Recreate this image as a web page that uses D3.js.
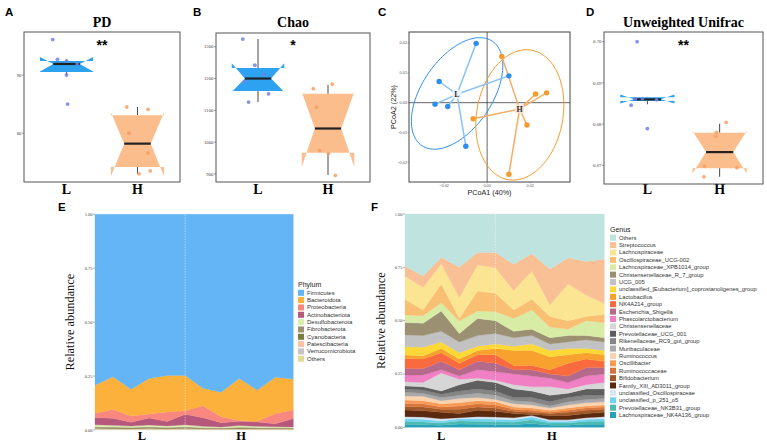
<!DOCTYPE html>
<html>
<head>
<meta charset="utf-8">
<script src="https://cdn.jsdelivr.net/npm/d3@7"></script>
<style>
body { margin: 0; background: #fff; }
svg { display: block; }
</style>
</head>
<body>
<svg id="fig" width="767" height="442"></svg>
<script>
// ---------- data ----------
var groups = ["L", "H"];

// alpha / beta diversity boxes: [whiskerLow, q1, median, q3, whiskerHigh, notchLow, notchHigh]
var pdBoxL = [90.0, 90.5, 91.9, 92.4, 92.7, 90.6, 93.1];
var pdBoxH = [73.0, 74.2, 78.2, 83.1, 84.5, 72.6, 83.6];
var pdL = [96.1, 92.7, 92.4, 91.9, 90.0, 85.0];
var pdH = [84.5, 84.1, 80.0, 76.6, 73.0, 73.5];
var pdJitterL = [-0.26, -0.17, 0.0, 0.2, 0.0, 0.02];
var pdJitterH = [-0.2, 0.2, -0.16, 0.2, 0.03, 0.24];
var pdTicks = [80, 90];

var chaoBoxL = [1126, 1161, 1200, 1233, 1324, 1158, 1248];
var chaoBoxH = [897, 967, 1043, 1152, 1180, 923, 1158];
var chaoL = [1324, 1242, 1214, 1190, 1152, 1126];
var chaoH = [1168, 1182, 1110, 974, 964, 896];
var chaoJitterL = [-0.29, -0.06, 0.11, -0.25, 0.2, -0.18];
var chaoJitterH = [-0.28, 0.08, -0.22, -0.16, 0.01, 0.14];
var chaoTicks = [900, 1000, 1100, 1200, 1300];

var uniBoxL = [0.6848, 0.6856, 0.6860, 0.6865, 0.6866, 0.6850, 0.6872];
var uniBoxH = [0.6672, 0.6693, 0.6732, 0.6779, 0.6801, 0.6680, 0.6783];
var uniL = [0.7000, 0.6846, 0.6789, 0.6861, 0.6859, 0.6862];
var uniH = [0.6804, 0.6780, 0.6770, 0.6698, 0.6672, 0.6694];
var uniJitterL = [-0.19, -0.3, 0.0, -0.22, 0.17, -0.09];
var uniJitterH = [0.12, -0.06, -0.07, -0.28, -0.29, 0.32];
var uniTicks = [0.67, 0.68, 0.69, 0.70];

// PCoA
var pcoaLx = [-0.0051, -0.0223, -0.0242, -0.0183, 0.0101, -0.0099];
var pcoaLy = [0.0199, 0.0071, -0.0005, -0.0013, 0.0090, -0.0146];
var pcoaHx = [0.0068, 0.0225, 0.0276, 0.0185, -0.0065, 0.0101];
var pcoaHy = [0.0155, 0.0029, 0.0033, -0.0075, -0.0054, -0.0240];
var centroidL = [-0.0140, 0.0028];
var centroidH = [0.0151, -0.0021];
// ellipse: centre x, centre y, then two conjugate semi-axis vectors (data units)
var ellipseL = [-0.01395, 0.0031, 0.0164, 0.0175, -0.0135, 0.0066];
var ellipseH = [0.0152, -0.0041, 0.0055, 0.0217, -0.0197, 0.0026];
var pcoaXTicks = [-0.02, 0.00, 0.02];
var pcoaYTicks = [-0.02, -0.01, 0.00, 0.01, 0.02];

// stacked composition, 12 samples
var samples = ["L1", "L2", "L3", "L4", "L5", "L6", "H1", "H2", "H3", "H4", "H5", "H6"];
var abundTicks = [0, 0.25, 0.5, 0.75, 1];

var phyla = ["Firmicutes", "Bacteroidota", "Proteobacteria", "Actinobacteriota", "Desulfobacterota",
  "Fibrobacterota", "Cyanobacteria", "Patescibacteria", "Verrucomicrobiota", "Others"];
var phylumColors = ["#64b5f6", "#fbb13c", "#f8887f", "#b6587c", "#dcedb0",
  "#9c9175", "#7a7d3d", "#f8c1a8", "#c4c4c4", "#dcdc98"];
var firmicutes = [0.792, 0.753, 0.811, 0.761, 0.747, 0.747, 0.807, 0.825, 0.761, 0.815, 0.756, 0.764];
var bacteroidota = [0.130, 0.152, 0.124, 0.165, 0.169, 0.164, 0.081, 0.113, 0.195, 0.145, 0.168, 0.143];
var proteobacteria = [0.021, 0.041, 0.029, 0.018, 0.045, 0.016, 0.055, 0.028, 0.004, 0.003, 0.047, 0.040];
var actinobacteriota = [0.033, 0.032, 0.018, 0.033, 0.020, 0.049, 0.040, 0.020, 0.019, 0.020, 0.014, 0.039];
var desulfobacterota = [0.009, 0.008, 0.006, 0.008, 0.007, 0.009, 0.006, 0.005, 0.008, 0.006, 0.005, 0.005];
var fibrobacterota = [0.004, 0.004, 0.003, 0.004, 0.003, 0.004, 0.003, 0.002, 0.004, 0.003, 0.003, 0.002];
var cyanobacteria = [0.003, 0.003, 0.003, 0.003, 0.003, 0.003, 0.002, 0.002, 0.003, 0.002, 0.002, 0.002];
var patescibacteria = [0.002, 0.002, 0.002, 0.002, 0.002, 0.002, 0.002, 0.001, 0.002, 0.002, 0.001, 0.001];
var verrucomicrobiota = [0.002, 0.002, 0.001, 0.002, 0.001, 0.002, 0.001, 0.001, 0.001, 0.001, 0.001, 0.001];
var phylumOthers = [0.004, 0.003, 0.003, 0.004, 0.003, 0.004, 0.003, 0.003, 0.003, 0.003, 0.003, 0.003];
var phylumTickAt = [2.6, 8.1];

var genera = ["Others", "Streptococcus", "Lachnospiraceae", "Oscillospiraceae_UCG-002",
  "Lachnospiraceae_XPB1014_group", "Christensenellaceae_R_7_group", "UCG_005",
  "unclassified_[Eubacterium]_coprostanoligenes_group", "Lactobacillus", "NK4A214_group",
  "Escherichia_Shigella", "Phascolarctobacterium", "Christensenellaceae", "Prevotellaceae_UCG_001",
  "Rikenellaceae_RC9_gut_group", "Muribaculaceae", "Ruminococcus", "Oscillibacter",
  "Ruminococcaceae", "Bifidobacterium", "Family_XIII_AD3011_group", "unclassified_Oscillospiraceae",
  "unclassified_p_251_o5", "Prevotellaceae_NK3B31_group", "Lachnospiraceae_NK4A136_group"];
var genusColors = ["#bfe3de", "#f9bf95", "#fbe592", "#f9c074", "#d9eca6", "#9b9072", "#c2c2c2",
  "#fdd837", "#f9a12e", "#f96b3e", "#b5698b", "#f07fc4", "#d6d6d6", "#5f5f5f", "#858585",
  "#a9a9a9", "#fad2ae", "#f79a55", "#d7743a", "#a05828", "#5a2a10", "#d6e6f5", "#6fd3ef",
  "#4dbab1", "#28a0b8"];
var gOthers = [0.244, 0.291, 0.203, 0.250, 0.180, 0.180, 0.236, 0.186, 0.258, 0.205, 0.223, 0.212];
var gStreptococcus = [0.047, 0.054, 0.030, 0.142, 0.059, 0.072, 0.123, 0.081, 0.169, 0.123, 0.157, 0.208];
var gLachnospiraceae = [0.109, 0.105, 0.095, 0.097, 0.122, 0.120, 0.091, 0.133, 0.053, 0.172, 0.100, 0.050];
var gOscUCG002 = [0.073, 0.027, 0.088, 0.013, 0.094, 0.086, 0.040, 0.050, 0.050, 0.040, 0.020, 0.040];
var gXPB1014 = [0.036, 0.035, 0.039, 0.058, 0.035, 0.042, 0.060, 0.090, 0.050, 0.030, 0.070, 0.070];
var gChrisR7 = [0.058, 0.058, 0.095, 0.040, 0.080, 0.060, 0.030, 0.030, 0.030, 0.030, 0.020, 0.020];
var gUCG005 = [0.055, 0.055, 0.050, 0.050, 0.050, 0.050, 0.040, 0.040, 0.030, 0.030, 0.040, 0.040];
var gEubacterium = [0.039, 0.040, 0.030, 0.030, 0.020, 0.020, 0.020, 0.030, 0.030, 0.030, 0.020, 0.020];
var gLactobacillus = [0.016, 0.015, 0.020, 0.020, 0.020, 0.030, 0.070, 0.070, 0.060, 0.040, 0.030, 0.030];
var gNK4A214 = [0.046, 0.045, 0.040, 0.030, 0.030, 0.040, 0.020, 0.020, 0.020, 0.060, 0.040, 0.030];
var gEscherichia = [0.032, 0.030, 0.040, 0.030, 0.040, 0.040, 0.020, 0.030, 0.020, 0.030, 0.040, 0.030];
var gPhascolarcto = [0.031, 0.035, 0.015, 0.015, 0.040, 0.040, 0.050, 0.050, 0.040, 0.030, 0.040, 0.040];
var gChristensen = [0.020, 0.020, 0.085, 0.025, 0.010, 0.010, 0.020, 0.020, 0.040, 0.020, 0.020, 0.030];
var gPrevUCG001 = [0.014, 0.015, 0.015, 0.030, 0.040, 0.040, 0.040, 0.030, 0.030, 0.020, 0.030, 0.030];
var gRikenella = [0.016, 0.015, 0.015, 0.020, 0.020, 0.020, 0.015, 0.020, 0.020, 0.020, 0.020, 0.015];
var gMuribac = [0.017, 0.015, 0.015, 0.015, 0.020, 0.020, 0.015, 0.015, 0.010, 0.015, 0.015, 0.015];
var gRuminococcus = [0.019, 0.020, 0.015, 0.020, 0.015, 0.010, 0.015, 0.015, 0.010, 0.015, 0.015, 0.015];
var gOscillibacter = [0.016, 0.015, 0.015, 0.015, 0.015, 0.015, 0.010, 0.010, 0.010, 0.010, 0.010, 0.010];
var gRuminococcaceae = [0.015, 0.015, 0.010, 0.015, 0.015, 0.015, 0.010, 0.010, 0.005, 0.010, 0.010, 0.010];
var gBifido = [0.016, 0.017, 0.015, 0.020, 0.015, 0.015, 0.010, 0.010, 0.010, 0.015, 0.015, 0.015];
var gFamXIII = [0.031, 0.030, 0.030, 0.020, 0.030, 0.027, 0.020, 0.005, 0.020, 0.020, 0.020, 0.020];
var gUnclOscillo = [0.010, 0.010, 0.010, 0.005, 0.010, 0.010, 0.010, 0.007, 0.007, 0.007, 0.007, 0.010];
var gP251 = [0.012, 0.013, 0.010, 0.010, 0.012, 0.012, 0.011, 0.013, 0.008, 0.008, 0.010, 0.012];
var gNK3B31 = [0.014, 0.013, 0.010, 0.014, 0.014, 0.013, 0.012, 0.017, 0.010, 0.010, 0.014, 0.014];
var gNK4A136 = [0.014, 0.012, 0.010, 0.016, 0.014, 0.013, 0.012, 0.018, 0.010, 0.010, 0.014, 0.014];
var genusTickAt = [2.0, 8.1];

// ---------- drawing ----------
var svg = d3.select("#fig");
var serif = "'Liberation Serif','Times New Roman',serif";
var sans = "'Liberation Sans',Arial,sans-serif";

// panel letters
[["A", 5, 16], ["B", 193, 16], ["C", 378, 16], ["D", 586, 16], ["E", 58, 211], ["F", 371, 211]]
  .forEach(function (p) {
    svg.append("text").attr("x", p[1]).attr("y", p[2]).text(p[0])
      .style("font-family", sans).style("font-weight", "bold").style("font-size", "11.5px");
  });

var boxFill = { L: "#2ca2f1", H: "#fbbd8c" };
var dotFill = { L: "#6f82ec", H: "#f5a064" };

function boxPanel(cfg) {
  var g = svg.append("g");
  var x = d3.scalePoint().domain(groups).range([cfg.left, cfg.right]).padding(0.6);
  var y = d3.scaleLinear().domain(cfg.domain).range([cfg.bottom, cfg.top]);
  var hw = x.step() * 0.375;

  g.append("text").attr("x", (cfg.left + cfg.right) / 2).attr("y", 26.5)
    .attr("text-anchor", "middle").text(cfg.title)
    .style("font-family", serif).style("font-weight", "bold").style("font-size", "14px");

  // y axis ticks
  cfg.ticks.forEach(function (t) {
    g.append("line").attr("x1", cfg.left - 2).attr("x2", cfg.left)
      .attr("y1", y(t)).attr("y2", y(t)).attr("stroke", "#666").attr("stroke-width", 0.6);
    g.append("text").attr("x", cfg.left - 2.5).attr("y", y(t) + 1.6)
      .attr("text-anchor", "end").text(d3.format(cfg.fmt)(t))
      .style("font-family", serif).style("font-size", "4.8px").style("fill", "#444");
  });

  groups.forEach(function (grp, gi) {
    var s = cfg.boxes[gi];
    var cx = x(grp), x0 = cx - hw, x1 = cx + hw;
    // whiskers
    g.append("line").attr("x1", cx).attr("x2", cx).attr("y1", y(s[3])).attr("y2", y(s[4]))
      .attr("stroke", "#333").attr("stroke-width", 0.9);
    g.append("line").attr("x1", cx).attr("x2", cx).attr("y1", y(s[1])).attr("y2", y(s[0]))
      .attr("stroke", "#333").attr("stroke-width", 0.9);
    // notched box
    var pts = [[x0, s[3]], [x0, s[6]], [x0 + hw / 2, s[2]], [x0, s[5]], [x0, s[1]],
      [x1, s[1]], [x1, s[5]], [x1 - hw / 2, s[2]], [x1, s[6]], [x1, s[3]]];
    g.append("polygon")
      .attr("points", pts.map(function (p) { return p[0] + "," + y(p[1]); }).join(" "))
      .attr("fill", boxFill[grp]).attr("stroke", "none");
    g.append("line").attr("x1", x0 + hw / 2).attr("x2", x1 - hw / 2)
      .attr("y1", y(s[2])).attr("y2", y(s[2]))
      .attr("stroke", "#222").attr("stroke-width", 2.2);
    // jittered points
    var vals = cfg.points[gi], jit = cfg.jitter[gi];
    g.selectAll(null).data(vals).enter().append("circle")
      .attr("cx", function (d, i) { return cx + jit[i] * 2 * hw; })
      .attr("cy", function (d) { return y(d); })
      .attr("r", 1.9).attr("fill", dotFill[grp]).attr("opacity", 0.85);
    g.append("text").attr("x", cx).attr("y", 194).attr("text-anchor", "middle").text(grp)
      .style("font-family", serif).style("font-weight", "bold").style("font-size", "14px");
  });

  g.append("rect").attr("x", cfg.left).attr("y", cfg.top)
    .attr("width", cfg.right - cfg.left).attr("height", cfg.bottom - cfg.top)
    .attr("fill", "none").attr("stroke", "#555").attr("stroke-width", 1);

  g.append("text").attr("x", (cfg.left + cfg.right) / 2).attr("y", 50)
    .attr("text-anchor", "middle").text(cfg.sig)
    .style("font-family", sans).style("font-weight", "bold").style("font-size", "14px");
}

boxPanel({ left: 24, right: 180, top: 32, bottom: 182, domain: [71.6, 97.4], title: "PD",
  ticks: pdTicks, fmt: "d", boxes: [pdBoxL, pdBoxH], points: [pdL, pdH],
  jitter: [pdJitterL, pdJitterH], sig: "**" });
boxPanel({ left: 216, right: 370, top: 33, bottom: 182, domain: [875, 1343], title: "Chao",
  ticks: chaoTicks, fmt: "d", boxes: [chaoBoxL, chaoBoxH], points: [chaoL, chaoH],
  jitter: [chaoJitterL, chaoJitterH], sig: "*" });
boxPanel({ left: 604, right: 763, top: 32, bottom: 184, domain: [0.66545, 0.70236],
  title: "Unweighted Unifrac", ticks: uniTicks, fmt: ".2f", boxes: [uniBoxL, uniBoxH],
  points: [uniL, uniH], jitter: [uniJitterL, uniJitterH], sig: "**" });

// ---------- PCoA ----------
(function () {
  var left = 409, right = 570, top = 32, bottom = 182;
  var g = svg.append("g");
  var x = d3.scaleLinear().domain([-0.0363, 0.0385]).range([left, right]);
  var y = d3.scaleLinear().domain([-0.0266, 0.0237]).range([bottom, top]);

  g.append("line").attr("x1", left).attr("x2", right).attr("y1", y(0)).attr("y2", y(0))
    .attr("stroke", "#222").attr("stroke-width", 0.7);
  g.append("line").attr("x1", x(0)).attr("x2", x(0)).attr("y1", top).attr("y2", bottom)
    .attr("stroke", "#222").attr("stroke-width", 0.7);

  var sets = [
    { name: "L", px: pcoaLx, py: pcoaLy, c: centroidL, e: ellipseL, line: "#86c3f4",
      pt: "#2b8ff0", lab: "#eef5fb" },
    { name: "H", px: pcoaHx, py: pcoaHy, c: centroidH, e: ellipseH, line: "#f4ad66",
      pt: "#f59b2e", lab: "#fbe6d3" }
  ];
  var ell = d3.line().x(function (d) { return x(d[0]); }).y(function (d) { return y(d[1]); })
    .curve(d3.curveLinearClosed);
  var angles = d3.range(0, 2 * Math.PI, Math.PI / 60);
  sets.forEach(function (s) {
    var e = s.e;
    var pts = angles.map(function (a) {
      return [e[0] + e[2] * Math.cos(a) + e[4] * Math.sin(a),
        e[1] + e[3] * Math.cos(a) + e[5] * Math.sin(a)];
    });
    g.append("path").attr("d", ell(pts)).attr("fill", "none")
      .attr("stroke", s.pt).attr("stroke-width", 1);
  });
  sets.forEach(function (s) {
    s.px.forEach(function (v, i) {
      g.append("line").attr("x1", x(s.c[0])).attr("y1", y(s.c[1]))
        .attr("x2", x(v)).attr("y2", y(s.py[i]))
        .attr("stroke", s.line).attr("stroke-width", 1.5);
    });
  });
  sets.forEach(function (s) {
    g.selectAll(null).data(s.px).enter().append("circle")
      .attr("cx", function (d) { return x(d); })
      .attr("cy", function (d, i) { return y(s.py[i]); })
      .attr("r", 2.7).attr("fill", s.pt);
    g.append("rect").attr("x", x(s.c[0]) - 4.5).attr("y", y(s.c[1]) - 4.5)
      .attr("width", 9).attr("height", 9).attr("rx", 1.5).attr("fill", s.lab).attr("opacity", 0.9);
    g.append("text").attr("x", x(s.c[0])).attr("y", y(s.c[1]) + 2.8).attr("text-anchor", "middle")
      .text(s.name).style("font-family", serif).style("font-weight", "bold").style("font-size", "8px")
      .style("fill", "#333");
  });

  g.append("rect").attr("x", left).attr("y", top).attr("width", right - left)
    .attr("height", bottom - top).attr("fill", "none").attr("stroke", "#444").attr("stroke-width", 1);

  pcoaYTicks.forEach(function (t) {
    g.append("line").attr("x1", left - 1.5).attr("x2", left).attr("y1", y(t)).attr("y2", y(t))
      .attr("stroke", "#666").attr("stroke-width", 0.5);
    g.append("text").attr("x", left - 2).attr("y", y(t) + 1.3).attr("text-anchor", "end")
      .text(d3.format(".2f")(t)).style("font-family", sans).style("font-size", "3.8px").style("fill", "#555");
  });
  pcoaXTicks.forEach(function (t) {
    g.append("line").attr("x1", x(t)).attr("x2", x(t)).attr("y1", bottom).attr("y2", bottom + 1.5)
      .attr("stroke", "#666").attr("stroke-width", 0.5);
    g.append("text").attr("x", x(t)).attr("y", bottom + 5).attr("text-anchor", "middle")
      .text(d3.format(".2f")(t)).style("font-family", sans).style("font-size", "3.8px").style("fill", "#555");
  });
  g.append("text").attr("x", (left + right) / 2).attr("y", 194.5).attr("text-anchor", "middle")
    .text("PCoA1 (40%)").style("font-family", sans).style("font-size", "7.2px").style("fill", "#222");
  g.append("text").attr("transform", "translate(395.5," + ((top + bottom) / 2) + ") rotate(-90)")
    .attr("text-anchor", "middle").text("PCoA2 (22%)")
    .style("font-family", sans).style("font-size", "7.2px").style("fill", "#222");
})();

// ---------- stacked area panels ----------
function stackPanel(cfg) {
  var g = svg.append("g");
  var x = d3.scaleLinear().domain([0, samples.length - 1]).range([cfg.left, cfg.right]);
  var y = d3.scaleLinear().domain([0, 1]).range([cfg.bottom, cfg.top]);
  var rows = samples.map(function (s, i) {
    var r = { idx: i };
    cfg.keys.forEach(function (k, ki) { r[k] = cfg.series[ki][i]; });
    return r;
  });
  var stackKeys = cfg.keys.slice().reverse();
  var layers = d3.stack().keys(stackKeys)(rows);
  var color = d3.scaleOrdinal().domain(cfg.keys).range(cfg.colors);
  var area = d3.area().x(function (d) { return x(d.data.idx); })
    .y0(function (d) { return y(d[0]); })
    .y1(function (d) { return y(Math.min(1, d[1])); });
  g.selectAll(null).data(layers).enter().append("path")
    .attr("d", area).attr("fill", function (d) { return color(d.key); })
    .attr("stroke", function (d) { return color(d.key); }).attr("stroke-width", 0.3);

  g.append("line").attr("x1", x(5)).attr("x2", x(5)).attr("y1", cfg.top).attr("y2", cfg.bottom)
    .attr("stroke", "#fff").attr("stroke-width", 0.6).attr("stroke-dasharray", "1.5,1.2")
    .attr("opacity", 0.8);

  abundTicks.forEach(function (t) {
    g.append("line").attr("x1", cfg.left - 2).attr("x2", cfg.left).attr("y1", y(t)).attr("y2", y(t))
      .attr("stroke", "#666").attr("stroke-width", 0.5);
    g.append("text").attr("x", cfg.left - 2.5).attr("y", y(t) + 1.5).attr("text-anchor", "end")
      .text(d3.format(".2f")(t)).style("font-family", serif).style("font-size", "4.5px").style("fill", "#444");
  });
  g.append("text").attr("transform", "translate(" + cfg.titleX + "," + ((cfg.top + cfg.bottom) / 2) + ") rotate(-90)")
    .attr("text-anchor", "middle").text("Relative abundance")
    .style("font-family", serif).style("font-size", "12.3px").style("fill", "#111");
  groups.forEach(function (grp, gi) {
    g.append("text").attr("x", x(cfg.tickAt[gi])).attr("y", 439.5).attr("text-anchor", "middle").text(grp)
      .style("font-family", serif).style("font-weight", "bold").style("font-size", "12.5px");
  });

  // legend
  var lg = g.append("g");
  lg.append("text").attr("x", cfg.legX).attr("y", cfg.legTitleY).text(cfg.legTitle)
    .style("font-family", sans).style("font-size", "7px").style("fill", "#222");
  cfg.keys.forEach(function (k, i) {
    var cy = cfg.legY0 + i * cfg.legStep;
    lg.append("rect").attr("x", cfg.legX).attr("y", cy - 3).attr("width", 6).attr("height", 6)
      .attr("fill", color(k));
    lg.append("text").attr("x", cfg.legX + 9).attr("y", cy + 2).text(k)
      .style("font-family", sans).style("font-size", cfg.legFont).style("fill", "#333");
  });
}

stackPanel({
  left: 95, right: 293.3, top: 214.3, bottom: 430, titleX: 73.5,
  keys: phyla, colors: phylumColors,
  series: [firmicutes, bacteroidota, proteobacteria, actinobacteriota, desulfobacterota,
    fibrobacterota, cyanobacteria, patescibacteria, verrucomicrobiota, phylumOthers],
  tickAt: phylumTickAt, legTitle: "Phylum", legX: 298, legTitleY: 286.5, legY0: 292.8,
  legStep: 7.33, legFont: "6px"
});

stackPanel({
  left: 405, right: 604.3, top: 214, bottom: 427.3, titleX: 384.5,
  keys: genera, colors: genusColors,
  series: [gOthers, gStreptococcus, gLachnospiraceae, gOscUCG002, gXPB1014, gChrisR7, gUCG005,
    gEubacterium, gLactobacillus, gNK4A214, gEscherichia, gPhascolarcto, gChristensen,
    gPrevUCG001, gRikenella, gMuribac, gRuminococcus, gOscillibacter, gRuminococcaceae,
    gBifido, gFamXIII, gUnclOscillo, gP251, gNK3B31, gNK4A136],
  tickAt: genusTickAt, legTitle: "Genus", legX: 610, legTitleY: 231.5, legY0: 237.7,
  legStep: 7.39, legFont: "5.8px"
});
</script>
</body>
</html>
